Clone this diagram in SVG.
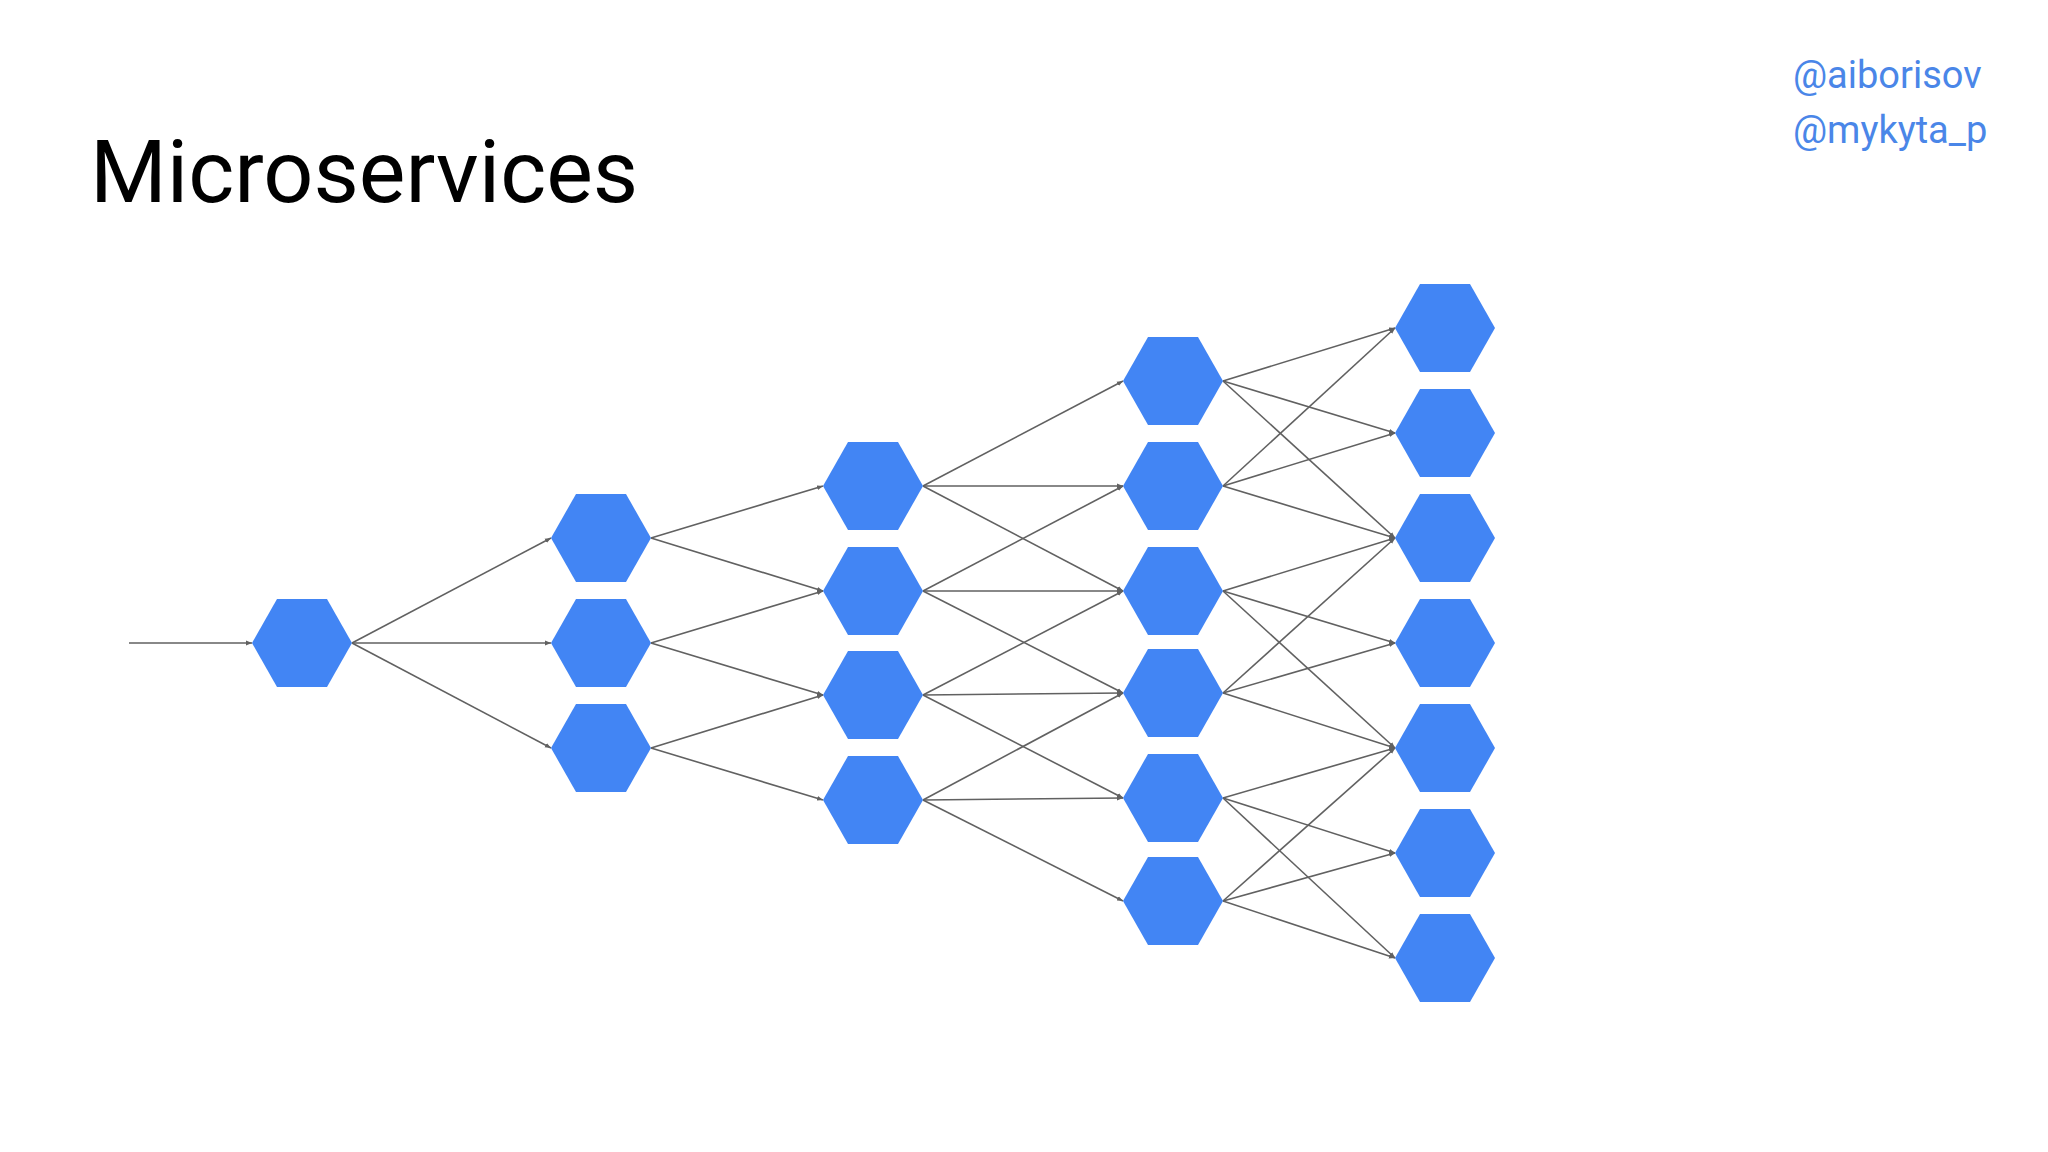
<svg xmlns="http://www.w3.org/2000/svg" width="2048" height="1152" viewBox="0 0 2048 1152">
<style>
.h{fill:#4285f4}
.e line{stroke:#616161;stroke-width:1.6;marker-end:url(#a)}
.t{font-family:Roboto,"Liberation Sans",sans-serif}
</style>
<defs>
<marker id="a" viewBox="0 0 10 10" refX="10" refY="5" markerWidth="6" markerHeight="6" orient="auto" markerUnits="userSpaceOnUse"><path d="M0,1 L10,5 L0,9 z" fill="#616161"/></marker>
<polygon id="hx" points="-50,0 -25,-44 25,-44 50,0 25,44 -25,44"/>
</defs>
<rect width="2048" height="1152" fill="#fff"/>
<text class="t" x="90" y="202" font-size="88" fill="#000">Microservices</text>
<text class="t" x="1793" y="88" font-size="38" fill="#4a86e8">@aiborisov</text>
<text class="t" x="1793" y="143" font-size="38" fill="#4a86e8">@mykyta_p</text>
<g id="connectors" class="e">
<line x1="129" y1="643" x2="252" y2="643"/>
<line x1="352" y1="643" x2="551" y2="538"/>
<line x1="352" y1="643" x2="551" y2="643"/>
<line x1="352" y1="643" x2="551" y2="748"/>
<line x1="651" y1="538" x2="823" y2="486"/>
<line x1="651" y1="538" x2="823" y2="591"/>
<line x1="651" y1="643" x2="823" y2="591"/>
<line x1="651" y1="643" x2="823" y2="695"/>
<line x1="651" y1="748" x2="823" y2="695"/>
<line x1="651" y1="748" x2="823" y2="800"/>
<line x1="923" y1="486" x2="1123" y2="381"/>
<line x1="923" y1="486" x2="1123" y2="486"/>
<line x1="923" y1="486" x2="1123" y2="591"/>
<line x1="923" y1="591" x2="1123" y2="486"/>
<line x1="923" y1="591" x2="1123" y2="591"/>
<line x1="923" y1="591" x2="1123" y2="693"/>
<line x1="923" y1="695" x2="1123" y2="591"/>
<line x1="923" y1="695" x2="1123" y2="693"/>
<line x1="923" y1="695" x2="1123" y2="798"/>
<line x1="923" y1="800" x2="1123" y2="693"/>
<line x1="923" y1="800" x2="1123" y2="798"/>
<line x1="923" y1="800" x2="1123" y2="901"/>
<line x1="1223" y1="381" x2="1395" y2="328"/>
<line x1="1223" y1="381" x2="1395" y2="433"/>
<line x1="1223" y1="381" x2="1395" y2="538"/>
<line x1="1223" y1="486" x2="1395" y2="328"/>
<line x1="1223" y1="486" x2="1395" y2="433"/>
<line x1="1223" y1="486" x2="1395" y2="538"/>
<line x1="1223" y1="591" x2="1395" y2="538"/>
<line x1="1223" y1="591" x2="1395" y2="643"/>
<line x1="1223" y1="591" x2="1395" y2="748"/>
<line x1="1223" y1="693" x2="1395" y2="538"/>
<line x1="1223" y1="693" x2="1395" y2="643"/>
<line x1="1223" y1="693" x2="1395" y2="748"/>
<line x1="1223" y1="798" x2="1395" y2="748"/>
<line x1="1223" y1="798" x2="1395" y2="853"/>
<line x1="1223" y1="798" x2="1395" y2="958"/>
<line x1="1223" y1="901" x2="1395" y2="748"/>
<line x1="1223" y1="901" x2="1395" y2="853"/>
<line x1="1223" y1="901" x2="1395" y2="958"/>
</g>
<g id="n1" class="h"><use href="#hx" x="302" y="643"/></g>
<g id="n2a" class="h"><use href="#hx" x="601" y="538"/></g>
<g id="n2b" class="h"><use href="#hx" x="601" y="643"/></g>
<g id="n2c" class="h"><use href="#hx" x="601" y="748"/></g>
<g id="n3a" class="h"><use href="#hx" x="873" y="486"/></g>
<g id="n3b" class="h"><use href="#hx" x="873" y="591"/></g>
<g id="n3c" class="h"><use href="#hx" x="873" y="695"/></g>
<g id="n3d" class="h"><use href="#hx" x="873" y="800"/></g>
<g id="n4a" class="h"><use href="#hx" x="1173" y="381"/></g>
<g id="n4b" class="h"><use href="#hx" x="1173" y="486"/></g>
<g id="n4c" class="h"><use href="#hx" x="1173" y="591"/></g>
<g id="n4d" class="h"><use href="#hx" x="1173" y="693"/></g>
<g id="n4e" class="h"><use href="#hx" x="1173" y="798"/></g>
<g id="n4f" class="h"><use href="#hx" x="1173" y="901"/></g>
<g id="n5a" class="h"><use href="#hx" x="1445" y="328"/></g>
<g id="n5b" class="h"><use href="#hx" x="1445" y="433"/></g>
<g id="n5c" class="h"><use href="#hx" x="1445" y="538"/></g>
<g id="n5d" class="h"><use href="#hx" x="1445" y="643"/></g>
<g id="n5e" class="h"><use href="#hx" x="1445" y="748"/></g>
<g id="n5f" class="h"><use href="#hx" x="1445" y="853"/></g>
<g id="n5g" class="h"><use href="#hx" x="1445" y="958"/></g>
</svg>
